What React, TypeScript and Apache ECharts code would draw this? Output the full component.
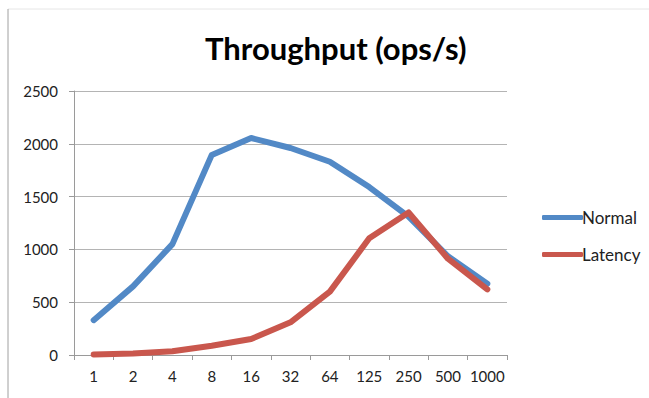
import React, { useEffect, useRef } from "react";
import * as echarts from "echarts";

// Thread counts along the x axis
const categories = ["1", "2", "4", "8", "16", "32", "64", "125", "250", "500", "1000"];

// Throughput in operations per second
const normalOps = [330, 650, 1050, 1895, 2055, 1960, 1830, 1590, 1310, 935, 675];
const latencyOps = [5, 15, 35, 88, 152, 310, 600, 1105, 1350, 912, 622];

const yTicks = { min: 0, max: 2500, interval: 500 };

const FONT = "Lato, 'Open Sans', sans-serif";

export default function App() {
  const ref = useRef<HTMLDivElement>(null);

  useEffect(() => {
    if (!ref.current) return;
    const chart = echarts.init(ref.current, undefined, { renderer: "svg" });
    chart.setOption({
      animation: false,
      backgroundColor: "#ffffff",
      title: {
        text: "Throughput (ops/s)",
        left: 200,
        top: 27,
        textStyle: { fontFamily: FONT, fontSize: 31, fontWeight: "bold", color: "#000" },
      },
      grid: { left: 74, right: 142, top: 91, bottom: 43, containLabel: false },
      legend: {
        orient: "vertical",
        left: 537,
        top: 204,
        icon: "roundRect",
        itemWidth: 41,
        itemHeight: 5,
        itemGap: 20,
        textStyle: {
          fontFamily: FONT,
          fontSize: 17,
          color: "#222",
          lineHeight: 17,
          padding: [0, 0, 0, -6],
        },
        data: ["Normal", "Latency"],
      },
      xAxis: {
        type: "category",
        data: categories,
        boundaryGap: true,
        axisLine: { lineStyle: { color: "#9a9a9a", width: 1 } },
        axisTick: { show: true, length: 5, lineStyle: { color: "#9a9a9a" } },
        axisLabel: { fontFamily: FONT, fontSize: 15, color: "#222", margin: 13, interval: 0 },
        splitLine: { show: false },
      },
      yAxis: {
        type: "value",
        min: yTicks.min,
        max: yTicks.max,
        interval: yTicks.interval,
        axisLine: { show: true, lineStyle: { color: "#9a9a9a", width: 1 } },
        axisTick: { show: true, length: 5, lineStyle: { color: "#9a9a9a" } },
        axisLabel: {
          fontFamily: FONT,
          fontSize: 15,
          color: "#222",
          margin: 16,
          formatter: (v: number) => String(v),
        },
        splitLine: { show: true, lineStyle: { color: "#b4b4b4", width: 1 } },
      },
      series: [
        {
          name: "Normal",
          type: "line",
          data: normalOps,
          showSymbol: false,
          symbol: "none",
          color: "#5289C6",
          lineStyle: { width: 6, color: "#5289C6", cap: "round", join: "round" },
        },
        {
          name: "Latency",
          type: "line",
          data: latencyOps,
          showSymbol: false,
          symbol: "none",
          color: "#C9574D",
          lineStyle: { width: 6, color: "#C9574D", cap: "round", join: "round" },
        },
      ],
      graphic: [
        {
          type: "line",
          shape: { x1: 8, y1: 9, x2: 649, y2: 9 },
          style: { stroke: "#e6e6e6", lineWidth: 1 },
          silent: true,
        },
        {
          type: "line",
          shape: { x1: 8, y1: 9, x2: 8, y2: 398 },
          style: { stroke: "#a0a0a0", lineWidth: 1 },
          silent: true,
        },
      ],
    });
    return () => chart.dispose();
  }, []);

  return (
    <div
      ref={ref}
      style={{ position: "fixed", left: 0, top: 0, width: 649, height: 398, background: "#fff" }}
    />
  );
}
